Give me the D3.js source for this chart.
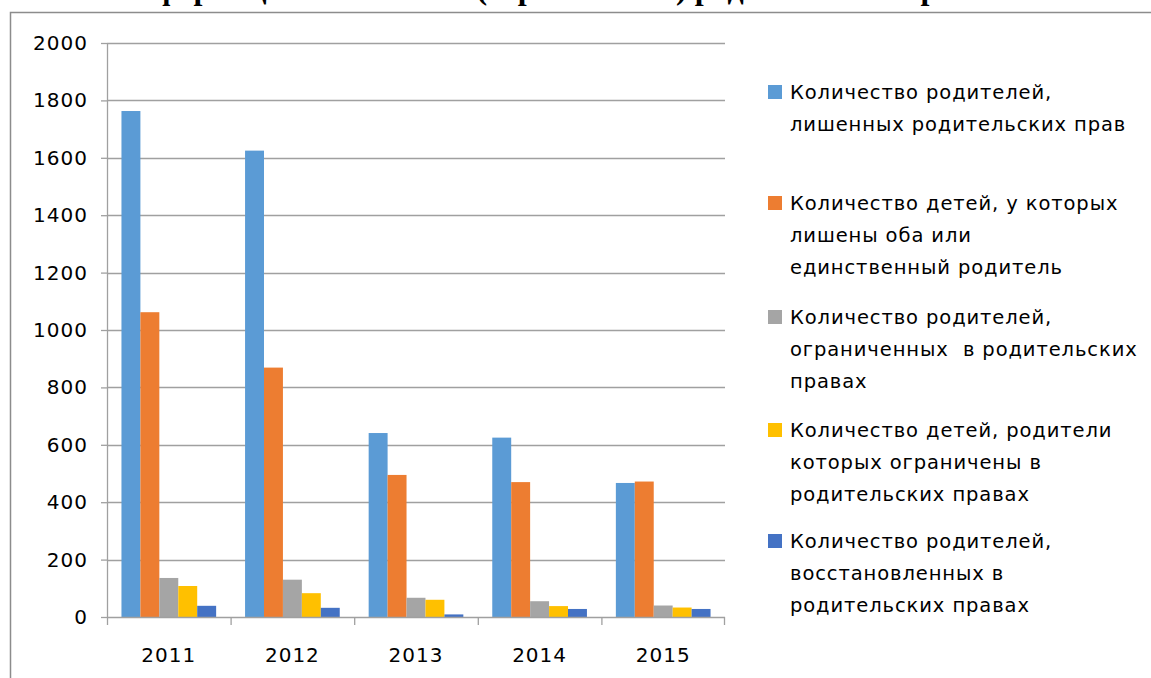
<!DOCTYPE html>
<html>
<head>
<meta charset="utf-8">
<script src="https://cdn.jsdelivr.net/npm/d3@7"></script>
<style>
    body { margin: 0; background: #fff; overflow: hidden; }
    svg text { font-family: "DejaVu Sans", sans-serif; fill: #000; white-space: pre; }
</style>
</head>
<body>
<div id="chart"></div>
<script>
const years = ["2011", "2012", "2013", "2014", "2015"];
const seriesNames = [
    "Количество родителей, лишенных родительских прав",
    "Количество детей, у которых лишены оба или единственный родитель",
    "Количество родителей, ограниченных  в родительских правах",
    "Количество детей, родители которых ограничены в родительских правах",
    "Количество родителей, восстановленных в родительских правах"
];
const legendLines = [
    ["Количество родителей,", "лишенных родительских прав"],
    ["Количество детей, у которых", "лишены оба или", "единственный родитель"],
    ["Количество родителей,", "ограниченных  в родительских", "правах"],
    ["Количество детей, родители", "которых ограничены в", "родительских правах"],
    ["Количество родителей,", "восстановленных в", "родительских правах"]
];
const deprived = [1763, 1625, 641, 625, 467];
const childrenDeprived = [1062, 869, 495, 470, 472];
const restricted = [136, 130, 67, 55, 40];
const childrenRestricted = [108, 83, 60, 38, 33];
const restored = [39, 32, 9, 28, 28];
const yTicks = [0, 200, 400, 600, 800, 1000, 1200, 1400, 1600, 1800, 2000];
const colors = ["#5B9BD5", "#ED7D31", "#A5A5A5", "#FFC000", "#4472C4"];

const seriesValues = [deprived, childrenDeprived, restricted, childrenRestricted, restored];

const width = 1151, height = 678;
const margin = { top: 43, right: 426, bottom: 61, left: 107 };
const innerW = width - margin.left - margin.right;
const innerH = height - margin.top - margin.bottom;

const svg = d3.select("#chart").append("svg")
    .attr("width", width)
    .attr("height", height);

// title, only its lower edge stays on the page
svg.append("text")
    .attr("x", 112)
    .attr("y", -1)
    .style("font-family", "'Liberation Serif', serif")
    .style("font-weight", "bold")
    .style("font-size", "32px")
    .text("Информации о лишении (ограничении) родительских прав за 5 лет");

// chart frame
svg.append("path")
    .attr("d", `M10.5,${height} V12.5 H${width}`)
    .attr("fill", "none")
    .attr("stroke", "#8c8c8c")
    .attr("stroke-width", 1.5);

const g = svg.append("g")
    .attr("transform", `translate(${margin.left},${margin.top})`);

const x0 = d3.scaleBand()
    .domain(years)
    .range([0, innerW])
    .paddingInner(0.234)
    .paddingOuter(0.117);

const band = d3.scaleBand()
    .domain(years)
    .range([0, innerW]);

const x1 = d3.scaleBand()
    .domain(d3.range(seriesNames.length))
    .range([0, x0.bandwidth()]);

const y = d3.scaleLinear()
    .domain([0, 2000])
    .range([innerH, 0]);

// gridlines
g.append("g")
    .selectAll("line")
    .data(yTicks.slice(1))
    .join("line")
    .attr("x1", 0)
    .attr("x2", innerW)
    .attr("y1", d => Math.round(y(d)) + 0.5)
    .attr("y2", d => Math.round(y(d)) + 0.5)
    .attr("stroke", "#a0a0a0")
    .attr("stroke-width", 1.3);

// bars
const groups = g.append("g")
    .selectAll("g")
    .data(years)
    .join("g")
    .attr("transform", d => `translate(${x0(d)},0)`);

groups.selectAll("rect")
    .data((d, i) => seriesValues.map((vals, s) => ({ s: s, v: vals[i] })))
    .join("rect")
    .attr("x", d => x1(d.s))
    .attr("width", x1.bandwidth())
    .attr("y", d => y(d.v))
    .attr("height", d => innerH - y(d.v))
    .attr("fill", d => colors[d.s]);

// y axis
const yAxis = d3.axisLeft(y)
    .tickValues(yTicks)
    .tickSize(6)
    .tickPadding(13)
    .tickFormat(d3.format("d"));

g.append("g")
    .attr("class", "y-axis")
    .call(yAxis)
    .call(a => a.select(".domain").remove())
    .call(a => a.selectAll("line").attr("stroke", "#a0a0a0").attr("stroke-width", 1.3))
    .call(a => a.selectAll("text")
        .style("font-size", "20px")
        .style("letter-spacing", "1px")
        .style("font-family", "'DejaVu Sans', sans-serif"));

g.append("line")
    .attr("x1", 0.5).attr("x2", 0.5)
    .attr("y1", 0).attr("y2", innerH)
    .attr("stroke", "#a0a0a0")
    .attr("stroke-width", 1.3);

// x axis
g.append("line")
    .attr("x1", 0).attr("x2", innerW)
    .attr("y1", innerH + 0.5).attr("y2", innerH + 0.5)
    .attr("stroke", "#a0a0a0")
    .attr("stroke-width", 1.5);

g.append("g")
    .selectAll("line")
    .data(years.concat(["end"]))
    .join("line")
    .attr("x1", (d, i) => i < years.length ? band(d) + 0.5 : innerW - 0.5)
    .attr("x2", (d, i) => i < years.length ? band(d) + 0.5 : innerW - 0.5)
    .attr("y1", innerH)
    .attr("y2", innerH + 8)
    .attr("stroke", "#a0a0a0")
    .attr("stroke-width", 1.3);

g.append("g")
    .selectAll("text")
    .data(years)
    .join("text")
    .attr("x", d => band(d) + band.bandwidth() / 2)
    .attr("y", innerH + 45)
    .attr("text-anchor", "middle")
    .style("font-size", "20px")
    .style("letter-spacing", "1px")
    .text(d => d);

// legend
const legendTop = [92, 203, 317, 430, 541];
const lineStep = 32;

const legend = svg.append("g")
    .selectAll("g")
    .data(seriesNames)
    .join("g")
    .attr("transform", (d, i) => `translate(768,${legendTop[i]})`);

legend.append("rect")
    .attr("x", 0)
    .attr("y", -7)
    .attr("width", 14)
    .attr("height", 14)
    .attr("fill", (d, i) => colors[i]);

legend.each(function(d, i) {
    d3.select(this).selectAll("text")
        .data(legendLines[i])
        .join("text")
        .attr("x", 22)
        .attr("y", (t, k) => k * lineStep + 7)
        .style("font-size", "19.5px")
        .style("letter-spacing", "0.9px")
        .text(t => t);
});
</script>
</body>
</html>
